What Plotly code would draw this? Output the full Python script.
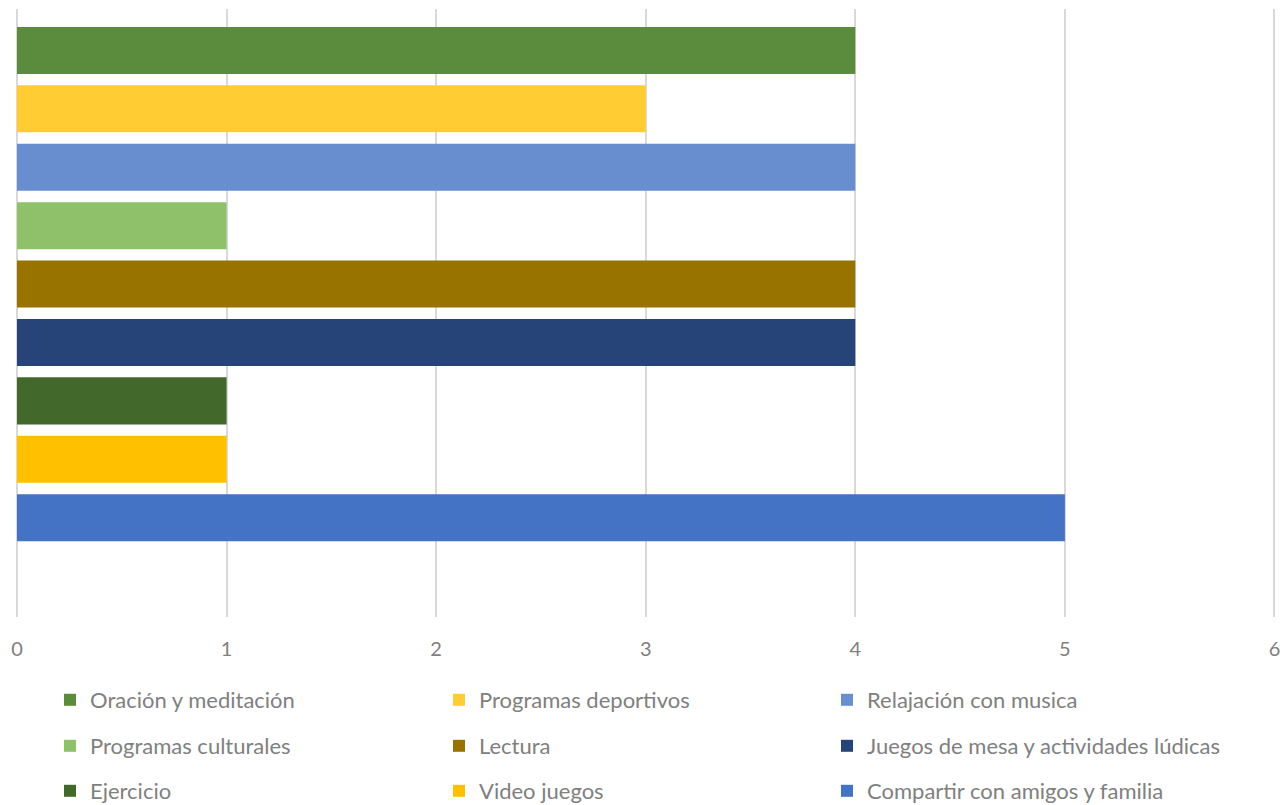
import plotly.graph_objects as go

# Actividades (orden de arriba hacia abajo) y número de respuestas
actividades = [
    "Oración y meditación",
    "Programas deportivos",
    "Relajación con musica",
    "Programas culturales",
    "Lectura",
    "Juegos de mesa y actividades lúdicas",
    "Ejercicio",
    "Video juegos",
    "Compartir con amigos y familia",
]
valores = [4, 3, 4, 1, 4, 4, 1, 1, 5]
colores = [
    "#5B8B3C", "#FFCD33", "#698ED0",
    "#8FC16A", "#997300", "#264478",
    "#43682B", "#FFC000", "#4472C4",
]
ticks_x = [0, 1, 2, 3, 4, 5, 6]

W, H = 1280, 805
FONT = "Lato, 'Open Sans', sans-serif"
GRIS = "#808080"

# Cuadrícula de la leyenda: 3 columnas x 3 filas (posiciones en píxeles)
col_x = [50, 439, 827]
fila_y = [700, 746, 791]

fig = go.Figure()
layout_legends = {}
for i, (nombre, v, c) in enumerate(zip(actividades, valores, colores)):
    ley = "legend" if i == 0 else f"legend{i + 1}"
    fig.add_trace(go.Bar(
        y=[nombre], x=[v], orientation="h", name=nombre,
        marker=dict(color=c, line=dict(width=0)),
        width=0.805,
        legend=ley,
        hoverinfo="x+name",
    ))
    layout_legends[ley] = dict(
        orientation="v", xref="container", yref="container",
        x=col_x[i % 3] / W, y=1 - fila_y[i // 3] / H,
        xanchor="left", yanchor="middle",
        font=dict(family=FONT, size=22, color=GRIS),
        bgcolor="rgba(0,0,0,0)", itemclick=False, itemdoubleclick=False,
    )

fig.update_layout(
    width=W, height=H,
    margin=dict(l=17, r=3, t=9, b=188, autoexpand=False),
    paper_bgcolor="white", plot_bgcolor="white",
    barmode="overlay",
    showlegend=True,
    font=dict(family=FONT, color=GRIS),
    xaxis=dict(
        range=[0, 6.012], tickvals=ticks_x, ticktext=[str(t) for t in ticks_x],
        showgrid=True, gridcolor="#D9D9D9", gridwidth=1.5,
        zeroline=True, zerolinecolor="#D9D9D9", zerolinewidth=1.5,
        showline=False, ticks="", ticklabelstandoff=18,
        ticklabeloverflow="allow",
        tickfont=dict(family=FONT, size=20, color=GRIS),
        fixedrange=True,
    ),
    yaxis=dict(
        type="category", categoryorder="array", categoryarray=actividades,
        range=[9.70, -0.709], showticklabels=False, showgrid=False,
        zeroline=False, showline=False, ticks="", fixedrange=True,
    ),
    **layout_legends,
)

fig.write_html("out.html", config={"displayModeBar": False})
